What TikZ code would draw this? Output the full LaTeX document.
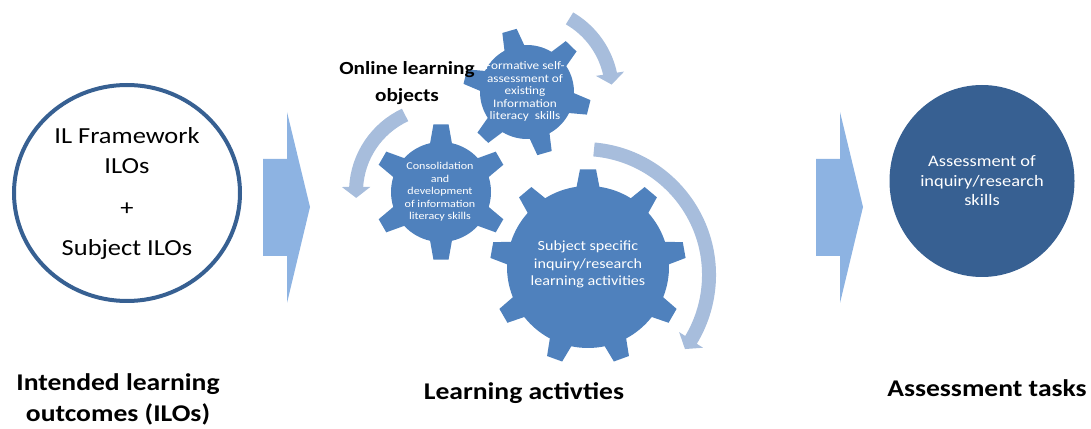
\documentclass[tikz,border=0pt]{standalone}
\usepackage{fontspec}
\setmainfont{Carlito}[FakeStretch=1.15]
\usetikzlibrary{arrows.meta,bending,shapes.geometric,positioning}

\definecolor{gearblue}{RGB}{79,129,189}
\definecolor{darkblue}{RGB}{55,96,146}
\definecolor{chevblue}{RGB}{141,179,226}
\definecolor{cycleblue}{RGB}{167,189,220}

% gear outline: center, teeth, root radius, tip radius, rotation, root half-angle, tip half-angle
\newcommand{\gearwheel}[7]{%
  \fill[gearblue,shift={#1}] ({#5-#6}:#3)
    \foreach \k in {1,...,#2}{
      -- ({#5+(\k-1)*360/#2-#7}:#4) -- ({#5+(\k-1)*360/#2+#7}:#4)
      -- ({#5+(\k-1)*360/#2+#6}:#3)
      arc[start angle={#5+(\k-1)*360/#2+#6}, end angle={#5+\k*360/#2-#6}, radius=#3]
    } -- cycle;}

\begin{document}
\begin{tikzpicture}[
    x=1pt,y=1pt,
    stage/.style={font=\bfseries\fontsize{24}{31}\selectfont,align=center},
    ilocircle/.style={ellipse,draw=darkblue,line width=4pt,minimum width=226pt,minimum height=216pt,align=center,font=\fontsize{23}{30}\selectfont},
    taskcircle/.style={ellipse,fill=darkblue,text=white,minimum width=185pt,minimum height=192pt,align=center,font=\fontsize{16}{19.5}\selectfont},
    geartext/.style={text=white,align=center,font=\fontsize{10.5}{12.5}\selectfont},
    cyclearrow/.style={cycleblue,line width=14pt,-{Triangle[width=28pt,length=11pt]}},
    chevron/.style={fill=chevblue}
]
    \useasboundingbox (0,0) rectangle (1091,428);

    % Block arrows
    \foreach \x in {263,816}
        \fill[chevron] (\x,269) -- ++(24,0) -- ++(0,47) -- ++(23,-95) -- ++(-23,-96) -- ++(0,47) -- ++(-24,0) -- cycle;

    % Gears
    \coordinate (g1) at (527,336);
    \coordinate (g2) at (441,236);
    \coordinate (g3) at (588,161);
    \coordinate (g3loop) at (583,153);

    \draw[cyclearrow] ([shift={(60:85)}]g1) arc[start angle=60,end angle=5,radius=85];
    \draw[cyclearrow] ([shift={(115:85)}]g2) arc[start angle=115,end angle=184,radius=85];
    \draw[cyclearrow] ([shift={(85:126)}]g3loop) arc[start angle=85,end angle=-36,radius=126];

    \gearwheel{(g1)}{6}{47}{64}{106}{12.6}{6.7}
    \gearwheel{(g2)}{6}{50}{68}{90}{12.6}{6.4}
    \gearwheel{(g3)}{9}{81}{98}{90}{8.1}{4.7}

    % Nodes
    \node[ilocircle] (ilo) at (127,235) {IL Framework\\ILOs\\[12pt]+\\[10pt]Subject ILOs};
    \node[taskcircle] (task) at (982,247) {Assessment of\\inquiry/research\\skills};

    \node[geartext,font=\fontsize{11.5}{12.5}\selectfont] (selfcheck) at (525,336.5) {Formative self-\\assessment of\\existing\\Information\\literacy\ \ skills};
    \node[geartext] (consol) at (440,236) {Consolidation\\and\\development\\of information\\literacy skills};
    \node[geartext,font=\fontsize{14}{17.5}\selectfont] (subject) at (588,163.5) {Subject specific\\inquiry/research\\learning activities};

    \node[font=\bfseries\fontsize{18.5}{27}\selectfont,align=center] (online) at (407,345) {Online learning\\objects};

    % Stage labels
    \node[stage] (outcomes) at (118,28.5) {Intended learning\\outcomes (ILOs)};
    \node[stage] (activities) at (524,35) {Learning activties};
    \node[stage] (tasks) at (987,40) {Assessment tasks};
\end{tikzpicture}
\end{document}
